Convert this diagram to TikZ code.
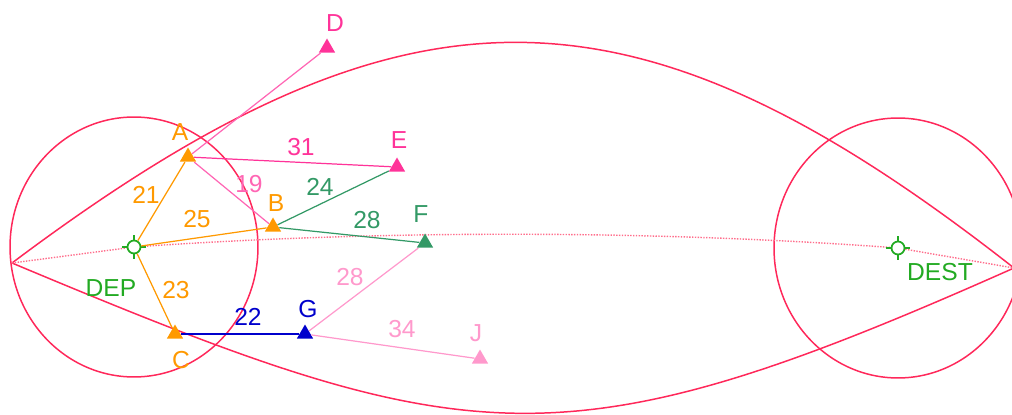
\documentclass[tikz,border=0pt]{standalone}
\usepackage{fontspec}
\setmainfont{Liberation Sans}
\usetikzlibrary{shapes.geometric, backgrounds}

\definecolor{rim}{RGB}{255,40,90}
\definecolor{ruta}{RGB}{255,110,140}
\definecolor{ambar}{RGB}{255,153,0}
\definecolor{verdefijo}{RGB}{34,170,34}
\definecolor{rosafuerte}{RGB}{255,51,153}
\definecolor{rosamedio}{RGB}{255,102,180}
\definecolor{marino}{RGB}{51,153,102}
\definecolor{azulg}{RGB}{0,0,204}
\definecolor{rosaclaro}{RGB}{255,153,204}

\begin{document}
\begin{tikzpicture}[
        x=0.02cm, y=-0.02cm,
        punto/.style={
            regular polygon,
            regular polygon sides=3,
            inner sep=0pt,
            minimum size=0.38cm,
            draw=none
        },
        fijo/.style={
            circle,
            draw=verdefijo,
            fill=white,
            line width=1pt,
            minimum size=0.26cm,
            inner sep=0pt
        },
        rotulo/.style={font=\fontsize{14}{16}\selectfont, inner sep=0pt},
        tramo/.style={line width=0.7pt},
        borde/.style={draw=rim, line width=0.85pt}
    ]
        \useasboundingbox (0,0) rectangle (1012,415);

        \node[fijo] (dep) at (134,247) {};
        \node[fijo] (dest) at (898,248) {};
        \coordinate (izq) at (12,263);
        \coordinate (der) at (1014,268);

        \foreach \n in {dep,dest} {
            \draw[verdefijo, line width=1pt] (\n.north) -- ++(0,-5) (\n.south) -- ++(0,5)
                (\n.east) -- ++(5,0) (\n.west) -- ++(-5,0);
        }

        \node[punto, fill=ambar] (A) at (188,157) {};
        \node[punto, fill=ambar] (B) at (273,227) {};
        \node[punto, fill=ambar] (C) at (175,334) {};
        \node[punto, fill=rosafuerte] (D) at (327,48) {};
        \node[punto, fill=rosafuerte] (E) at (397,167) {};
        \node[punto, fill=marino] (F) at (425,243) {};
        \node[punto, fill=azulg] (G) at (305,334) {};
        \node[punto, fill=rosaclaro] (J) at (480,359) {};

        \begin{scope}[on background layer]
            \draw[borde] (dep.center) ellipse [x radius=2.48cm, y radius=2.6cm];
            \draw[borde] (dest.center) ellipse [x radius=2.48cm, y radius=2.6cm];
            \draw[borde] (izq) .. controls (408,-34) and (634,-30) .. (der);
            \draw[borde] (izq) .. controls (470,455) and (560,470) .. (der);
            \draw[ruta, line width=0.8pt, dash pattern=on 0.8pt off 0.8pt]
                (izq) -- (dep) .. controls (380,230) and (650,230) .. (dest) -- (der);
        \end{scope}

        \draw[tramo, ambar] (dep) -- (A);
        \draw[tramo, ambar] (dep) -- (B);
        \draw[tramo, ambar] (dep) -- (C);
        \draw[tramo, rosamedio] (A) -- (D);
        \draw[tramo, rosafuerte] (A) -- (E);
        \draw[tramo, rosamedio] (A) -- (B);
        \draw[tramo, marino] (B) -- (E);
        \draw[tramo, marino] (B) -- (F);
        \draw[tramo, azulg] (C) -- (G);
        \draw[tramo, rosaclaro] (G) -- (F);
        \draw[tramo, rosaclaro] (G) -- (J);

        % nombres de los puntos
        \node[rotulo, text=ambar] (tA) at (180,132) {A};
        \node[rotulo, text=ambar] (tB) at (276,203) {B};
        \node[rotulo, text=ambar] (tC) at (181,360) {C};
        \node[rotulo, text=rosafuerte] (tD) at (335,23) {D};
        \node[rotulo, text=rosafuerte] (tE) at (399,140) {E};
        \node[rotulo, text=marino] (tF) at (421,214) {F};
        \node[rotulo, text=azulg] (tG) at (308,309) {G};
        \node[rotulo, text=rosaclaro] (tJ) at (476,333) {J};
        \node[rotulo, text=verdefijo] (tdep) at (111,288) {DEP};
        \node[rotulo, text=verdefijo] (tdest) at (940,272) {DEST};

        % distancias
        \node[rotulo, text=ambar] (w21) at (146,195) {21};
        \node[rotulo, text=ambar] (w25) at (197,219) {25};
        \node[rotulo, text=ambar] (w23) at (176,290) {23};
        \node[rotulo, text=rosamedio] (w19) at (249,184) {19};
        \node[rotulo, text=rosafuerte] (w31) at (301,147) {31};
        \node[rotulo, text=marino] (w24) at (320,187) {24};
        \node[rotulo, text=marino] (w28a) at (367,220) {28};
        \node[rotulo, text=azulg] (w22) at (248,317) {22};
        \node[rotulo, text=rosaclaro] (w28b) at (350,277) {28};
        \node[rotulo, text=rosaclaro] (w34) at (402,329) {34};
    \end{tikzpicture}
\end{document}
